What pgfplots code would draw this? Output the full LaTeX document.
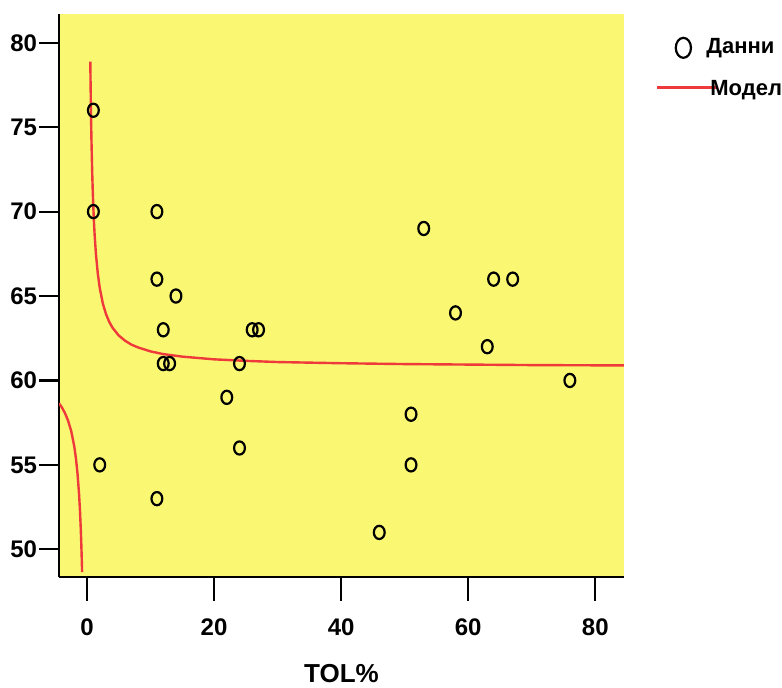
\documentclass[border=0pt]{standalone}
\usepackage{pgfplots}
\pgfplotsset{compat=1.18}
\usepackage{fontspec}
\setmainfont{Liberation Sans}
\definecolor{bgyellow}{RGB}{250,247,115}
\definecolor{modelred}{RGB}{238,58,58}
\begin{document}
\begin{tikzpicture}
\useasboundingbox (-29.5pt,-55.5pt) rectangle (361.5pt,288.5pt);
\begin{axis}[
  scale only axis,
  width=282.5pt, height=281.3pt,
  xmin=-4.41, xmax=84.52,
  ymin=48.36, ymax=81.68,
  axis background/.style={fill=bgyellow},
  axis line style={black, line width=0.9pt},
  xtick={0,20,40,60,80},
  ytick={50,55,60,65,70,75,80},
  tick align=outside,
  axis x line*=bottom, axis y line*=left,
  every tick/.style={black, line width=1.1pt},
  xtick style={/pgfplots/major tick length=12pt},
  ytick style={/pgfplots/major tick length=10pt},
  minor tick num=0,
  /pgf/number format/assume math mode=true,
  ticklabel style={font=\bfseries\fontsize{12}{14}\selectfont},
  yticklabel style={inner sep=1pt, xshift=-5.5pt},
  xticklabel style={inner sep=0pt, yshift=-16.5pt},
  xlabel={TOL\%},
  xlabel style={font=\bfseries\fontsize{13}{15}\selectfont, at={(axis description cs:0.5,0)}, anchor=center, yshift=-48.5pt},
  clip=true,
  legend style={at={(1.0584,0.961)}, anchor=north west, draw=none, fill=none,
    font=\bfseries\fontsize{11}{13}\selectfont, inner sep=0pt, row sep=10pt,
    nodes={inner sep=0.5pt}},
  legend cell align=left,
]
\addplot[only marks, mark=o, mark size=3.3pt, black, forget plot,
  mark options={xscale=0.82, line width=1.1pt}]
  coordinates {
  (1,76) (1,70) (11,70) (11,66) (14,65) (12,63) (12,61) (13,61)
  (2,55) (11,53) (22,59) (24,61) (24,56) (26,63) (27,63) (53,69)
  (64,66) (67,66) (58,64) (63,62) (76,60) (51,58) (51,55) (46,51)
  };
\addplot[modelred, line width=1.2pt, forget plot] coordinates {
  (-4.41,58.646) (-4.0,58.43) (-3.5,58.09) (-3.0,57.64) (-2.5,57.02)
  (-2.0,56.08) (-1.75,55.40) (-1.5,54.51) (-1.25,53.25) (-1.1,52.23)
  (-1.0,51.37) (-0.9,50.32) (-0.85,49.71) (-0.8,49.02) (-0.776,48.65)
  };
\addplot[modelred, line width=1.2pt, forget plot] coordinates {
  (0.52,78.88) (0.55,77.89) (0.6,76.46) (0.65,75.26) (0.7,74.22) (0.8,72.54)
  (0.9,71.24) (1.0,70.19) (1.1,69.33) (1.2,68.62) (1.4,67.50) (1.7,66.32)
  (2.0,65.49) (2.5,64.54) (3,63.92) (3.5,63.47) (4,63.13) (5,62.66)
  (6,62.35) (7,62.12) (8,61.96) (10,61.72) (12,61.56) (15,61.41)
  (20,61.25) (25,61.16) (30,61.09) (40,61.02) (50,60.97) (60,60.94)
  (70,60.91) (84.52,60.89)
  };
\addlegendimage{legend image code/.code={
  \path[draw=none, fill=none] (0pt,-5pt) rectangle (24pt,5pt);
  \draw[black, line width=1.1pt, fill=none] (13pt,0pt) ellipse [x radius=3.8pt, y radius=5pt];}}
\addlegendentry{Данни}
\addlegendimage{legend image code/.code={
  \path[draw=none, fill=none] (0pt,-5pt) rectangle (24pt,5pt);
  \draw[overlay, modelred, line width=1.2pt] (0pt,0.8pt) -- (30pt,0.8pt);}}
\addlegendentry{\hspace{2pt}Модел}
\end{axis}
\end{tikzpicture}
\end{document}
